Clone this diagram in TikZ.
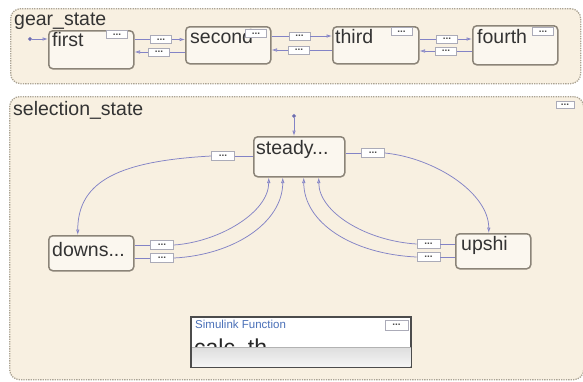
\documentclass[tikz,border=0pt]{standalone}
\usepackage{fontspec}
\setmainfont{Liberation Sans}
\usetikzlibrary{arrows.meta}
\definecolor{beige}{HTML}{F8F0E1}
\definecolor{statefill}{HTML}{FBF7EF}
\definecolor{stateline}{HTML}{8B8478}
\definecolor{outerline}{HTML}{ABA393}
\definecolor{tblue}{HTML}{8383C6}
\definecolor{dotline}{HTML}{ABABB8}
\definecolor{simblue}{HTML}{4A70B8}
\begin{document}
\begin{tikzpicture}[x=1pt,y=-1pt,
  outerbox/.style={draw=outerline, fill=beige, line width=1.3pt, dash pattern=on 1.3pt off 1.1pt, rounded corners=10pt, anchor=north west, inner sep=0pt},
  stbox/.style={draw=stateline, fill=statefill, line width=1.5pt, rounded corners=4pt, anchor=north west, inner sep=0pt},
  bigtxt/.style={font=\fontsize{19.5}{20}\selectfont, text=black!80, anchor=base west, inner sep=0pt},
  dotbox/.style={draw=dotline, fill=white, line width=0.7pt, minimum width=21pt, minimum height=8pt, inner sep=0pt, font=\fontsize{10}{6}\selectfont\bfseries, text=black!70},
  trans/.style={draw=tblue, line width=0.75pt},
  arr/.style={-{Latex[open,length=5.5pt,width=3.6pt]}},
  dflt/.style={{Circle[length=4pt,fill=tblue!70!black]}-{Latex[open,length=5.5pt,width=3.6pt]}}
]
\useasboundingbox (0,0) rectangle (583,381);
\fill[white] (0,0) rectangle (583,381);

% containers
\node[outerbox, minimum width=570pt, minimum height=75pt] (gear) at (10,8) {};
\node[bigtxt] (geartxt) at (14,25) {gear\_state};
\node[outerbox, minimum width=574pt, minimum height=283pt] (sel) at (9,96) {};
\node[bigtxt] (seltxt) at (13,115) {selection\_state};
\node[dotbox, minimum width=18pt, minimum height=7pt] (seldots) at (565,105) {...};

% gear states
\node[stbox, minimum width=85pt, minimum height=38pt] (first) at (48,30) {};
\node[bigtxt] (firsttxt) at (52,46) {first};
\node[stbox, minimum width=85pt, minimum height=37pt] (second) at (185,26) {};
\node[bigtxt] (secondtxt) at (190,43) {second};
\node[stbox, minimum width=86pt, minimum height=37pt] (third) at (332,26) {};
\node[bigtxt] (thirdtxt) at (335,43) {third};
\node[stbox, minimum width=85pt, minimum height=39pt] (fourth) at (472,25) {};
\node[bigtxt] (fourthtxt) at (477,43) {fourth};
\node[dotbox] (firstdots) at (117,34.5) {...};
\node[dotbox] (seconddots) at (256,33.5) {...};
\node[dotbox] (thirddots) at (401.5,31.5) {...};
\node[dotbox] (fourthdots) at (543,31.5) {...};

% selection states
\node[stbox, minimum width=91pt, minimum height=40pt] (steady) at (253,136) {};
\node[bigtxt] (steadytxt) at (256,154) {steady...};
\node[stbox, minimum width=85pt, minimum height=35pt] (downs) at (48,235) {};
\node[bigtxt] (downstxt) at (52,256) {downs...};
\node[stbox, minimum width=75pt, minimum height=35pt] (upshi) at (455,233) {};
\node[bigtxt] (upshitxt) at (461,250) {upshi};

% default transitions
\coordinate (gdot) at (28,39);
\draw[trans, dflt] (gdot) -- (gdot -| first.west);
\coordinate (sdot) at (294,114);
\draw[trans, dflt] (sdot) -- (sdot |- steady.north);

% gear transition labels
\node[dotbox] (g1a) at (161,39.5) {...};
\node[dotbox] (g1b) at (159,52) {...};
\node[dotbox] (g2a) at (299.5,36) {...};
\node[dotbox] (g2b) at (299,50) {...};
\node[dotbox] (g3a) at (447,39) {...};
\node[dotbox] (g3b) at (446,51) {...};

\draw[trans] (first.east |- g1a) -- (g1a.west);
\draw[trans, arr] (g1a.east) -- (second.west |- g1a);
\draw[trans] (second.west |- g1b) -- (g1b.east);
\draw[trans, arr] (g1b.west) -- (first.east |- g1b);
\draw[trans] (second.east |- g2a) -- (g2a.west);
\draw[trans, arr] (g2a.east) -- (third.west |- g2a);
\draw[trans] (third.west |- g2b) -- (g2b.east);
\draw[trans, arr] (g2b.west) -- (second.east |- g2b);
\draw[trans] (third.east |- g3a) -- (g3a.west);
\draw[trans, arr] (g3a.east) -- (fourth.west |- g3a);
\draw[trans] (fourth.west |- g3b) -- (g3b.east);
\draw[trans, arr] (g3b.west) -- (third.east |- g3b);

% selection transition labels
\node[dotbox, minimum width=23pt, minimum height=9pt] (s1) at (223,156) {...};
\node[dotbox, minimum width=23pt, minimum height=9pt] (s2) at (373,153) {...};
\node[dotbox, minimum width=23pt, minimum height=9pt] (s3) at (162,245) {...};
\node[dotbox, minimum width=23pt, minimum height=9pt] (s4) at (162,258) {...};
\node[dotbox, minimum width=23pt, minimum height=9pt] (s5) at (428.5,244) {...};
\node[dotbox, minimum width=23pt, minimum height=9pt] (s6) at (428.5,257) {...};

\draw[trans] (steady.west |- s1) -- (s1.east);
\draw[trans, arr] (s1.west) .. controls +(-90,5) and +(0,-55) .. ([xshift=-13.5pt]downs.north);
\draw[trans] (steady.east |- s2) -- (s2.west);
\draw[trans, arr] (s2.east) .. controls +(50,5) and +(0,-40) .. ([xshift=-4.5pt]upshi.north);
\draw[trans] (downs.east |- s3) -- (s3.west);
\draw[trans, arr] (s3.east) .. controls +(45,-3) and +(0,35) .. ([xshift=-30.5pt]steady.south);
\draw[trans] (downs.east |- s4) -- (s4.west);
\draw[trans, arr] (s4.east) .. controls +(60,-3) and +(0,45) .. ([xshift=-16.5pt]steady.south);
\draw[trans] (upshi.west |- s5) -- (s5.east);
\draw[trans, arr] (s5.west) .. controls +(-50,-3) and +(0,35) .. ([xshift=19.5pt]steady.south);
\draw[trans] (upshi.west |- s6) -- (s6.east);
\draw[trans, arr] (s6.west) .. controls +(-65,-3) and +(0,45) .. ([xshift=4.5pt]steady.south);

% Simulink function
\node[draw=black!70, fill=white, line width=1.4pt, minimum width=219pt, minimum height=49pt, anchor=north west, inner sep=0pt] (sim) at (191,317) {};
\node[font=\fontsize{11.5}{12}\selectfont, text=simblue, anchor=base west, inner sep=0pt] (simtitle) at (195,328) {Simulink Function};
\node[font=\fontsize{23}{24}\selectfont, text=black!85, anchor=base west, inner sep=0pt] (simname) at (194,355) {calc\_th};
\shade[top color=black!13, bottom color=black!4] ([xshift=0.7pt,yshift=-30pt]sim.north west) rectangle ([xshift=-0.7pt,yshift=0.7pt]sim.south east);
\draw[black!30, line width=0.6pt] ([xshift=0.7pt,yshift=-30pt]sim.north west) -- ([xshift=-0.7pt,yshift=-30pt]sim.north east);
\draw[black!70, line width=1.4pt] (sim.north west) rectangle (sim.south east);
\node[dotbox, minimum width=23pt, minimum height=10pt] (simdots) at (396.5,325) {...};
\end{tikzpicture}
\end{document}
